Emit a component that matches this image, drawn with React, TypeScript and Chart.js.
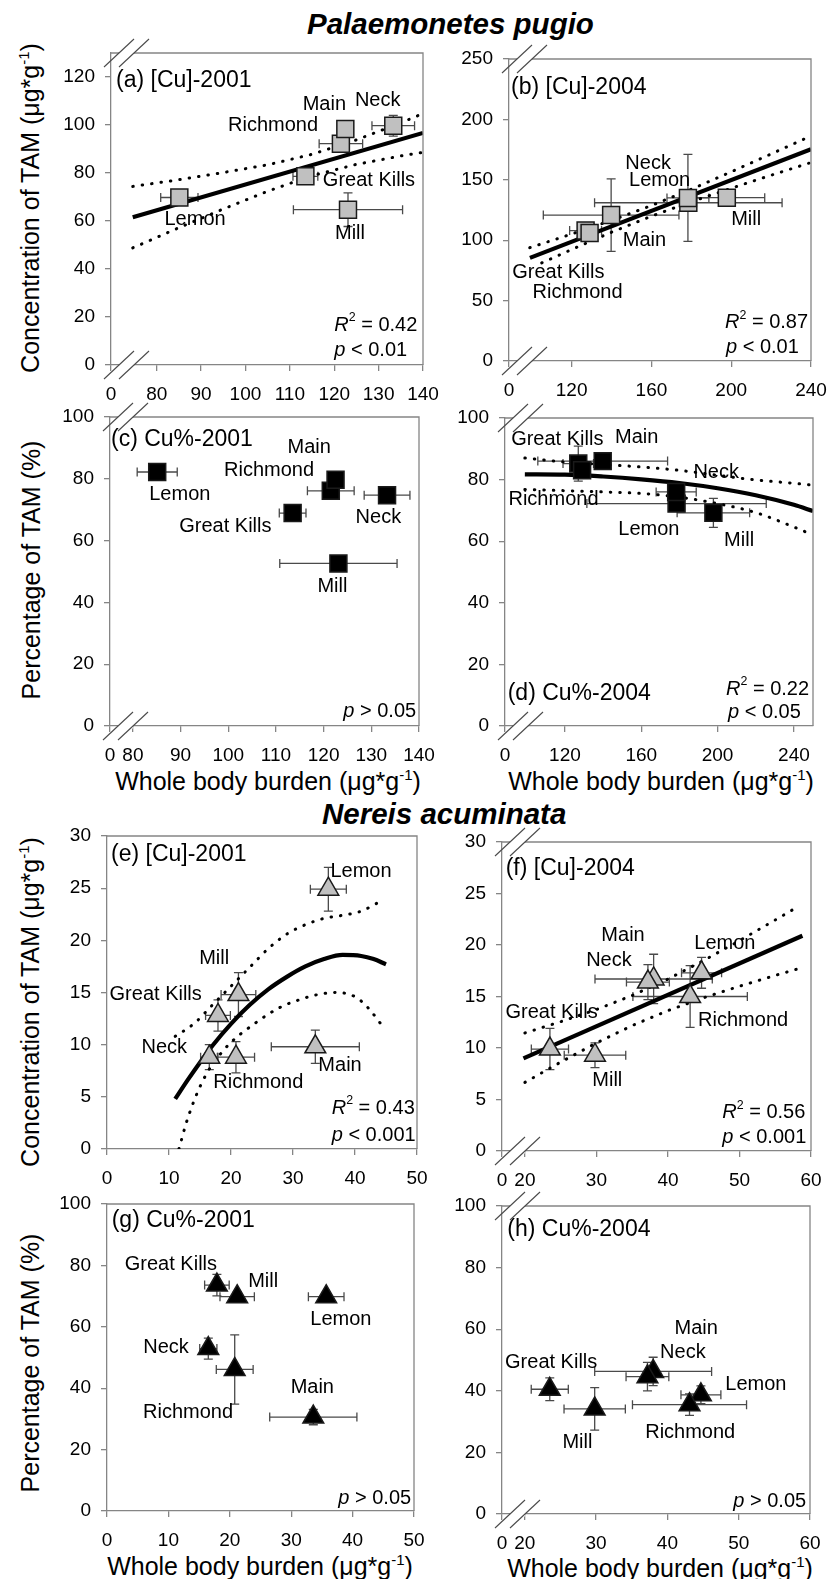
import React, { useEffect, useRef } from 'react';
import { Chart, registerables } from 'chart.js';

Chart.register(...registerables);

const FONT = '"Liberation Sans", Arial, Helvetica, sans-serif';
Chart.defaults.font.family = FONT;

// ---------------- data ----------------
const sites = ['Lemon', 'Great Kills', 'Richmond', 'Main', 'Neck', 'Mill'];

// Palaemonetes pugio 2001
const shrimpBurden2001 = [85.1, 113.5, 121.5, 122.5, 133.3, 123.1];
const shrimpBurdenErr2001 = [4.2, 2.8, 4.9, 1.5, 4.8, 12.3];
const shrimpTam2001 = [69.8, 78.6, 92.2, 98.3, 99.7, 64.7];
const shrimpTamErr2001 = [1.5, 1.5, 2.0, 1.5, 4.3, 7.0];
const shrimpPct2001 = [82.2, 68.9, 76.1, 79.7, 74.7, 52.6];
const shrimpPctErr2001 = [1.0, 1.0, 1.0, 1.0, 1.0, 1.0];

// Palaemonetes pugio 2004
const shrimpBurden2004 = [178.5, 127.0, 129.0, 139.8, 178.3, 197.8];
const shrimpBurdenErr2004 = [47.0, 8.0, 3.0, 34.0, 10.5, 19.0];
const shrimpTam2004 = [131.0, 108.0, 106.0, 120.8, 135.0, 135.2];
const shrimpTamErr2004 = [4.0, 3.0, 3.0, 30.0, 36.0, 5.0];
const shrimpPct2004 = [72.2, 85.2, 83.0, 86.0, 76.0, 69.2];
const shrimpPctErr2004 = [2.0, 5.7, 2.0, 2.0, 2.0, 4.7];

// Nereis acuminata 2001
const wormBurden2001 = [35.7, 17.9, 20.8, 33.6, 16.5, 21.2];
const wormBurdenErr2001 = [2.9, 2.0, 3.0, 7.1, 1.4, 2.8];
const wormTam2001 = [24.9, 12.8, 8.8, 9.8, 8.8, 14.8];
const wormTamErr2001 = [2.1, 1.5, 1.5, 1.6, 1.2, 2.1];
const wormPct2001 = [69.8, 73.6, 46.1, 30.6, 52.9, 69.8];
const wormPctErr2001 = [1.5, 3.5, 11.3, 2.5, 3.4, 1.5];

// Nereis acuminata 2004
const wormBurden2004 = [44.7, 23.5, 43.1, 38.0, 37.2, 29.8];
const wormBurdenErr2004 = [2.8, 2.6, 8.0, 8.2, 3.0, 4.3];
const wormTam2004 = [17.3, 9.9, 15.0, 16.7, 16.4, 9.3];
const wormTamErr2004 = [1.5, 2.0, 3.0, 2.4, 1.7, 1.2];
const wormPct2004 = [38.7, 40.5, 35.5, 46.3, 44.6, 34.1];
const wormPctErr2004 = [2.9, 3.7, 3.5, 4.6, 4.6, 6.9];

// regression fits and confidence bands
const fitA_x = [74.6, 140];
const fitA_y = [61.6, 96.7];
const ciA_x = [74.6, 85, 95, 105, 115, 125, 135, 140];
const ciA_hi = [74.4, 77.2, 80.2, 83.4, 87.8, 93.8, 100.9, 104.8];
const ciA_lo = [48.8, 57.2, 65.0, 72.4, 78.9, 83.6, 87.1, 88.6];

const fitB_x = [99.1, 240];
const fitB_y = [85.4, 175.3];
const ciB_hi_x = [99, 120, 140, 160, 180, 200, 220, 240];
const ciB_hi = [93.8, 105.1, 116.4, 128.7, 142.2, 156.6, 171.4, 186.3];
const ciB_lo_x = [105, 120, 140, 160, 180, 200, 220, 240];
const ciB_lo = [81.2, 92.3, 106.6, 119.9, 131.8, 143.0, 153.8, 164.3];

const fitD_x = [99, 120, 140, 160, 180, 200, 220, 240, 250];
const fitD_y = [81.7, 81.6, 81.0, 80.1, 78.9, 77.2, 74.9, 71.8, 69.8];
const ciD_hi = [87.0, 85.7, 84.9, 84.1, 83.0, 81.4, 79.9, 78.8, 78.2];
const ciD_lo = [76.8, 76.4, 76.0, 75.5, 74.3, 72.2, 69.3, 64.6, 62.0];

const fitE_x = [11, 13, 15, 17, 20, 23, 26, 29, 32, 35, 38, 41, 43, 45];
const fitE_y = [4.8, 6.6, 8.3, 9.9, 12.0, 13.8, 15.3, 16.5, 17.5, 18.2, 18.6, 18.5, 18.2, 17.7];
const ciE_hi_x = [11, 14, 17, 20, 23, 26, 29, 32, 35, 38, 41, 44];
const ciE_hi = [10.8, 12.0, 13.8, 15.6, 17.4, 19.2, 20.6, 21.5, 22.1, 22.4, 22.8, 23.7];
const ciE_lo_x = [11.6, 13, 15.5, 19, 24, 28, 31, 34, 37, 40, 42, 44.8];
const ciE_lo = [0, 2.9, 6.6, 9.6, 12.1, 13.6, 14.3, 14.8, 15.0, 14.6, 13.6, 11.5];

const fitF_x = [19.8, 58.8];
const fitF_y = [9.0, 20.9];
const ciF_x = [20, 25, 30, 35, 40, 45, 50, 55, 58];
const ciF_hi = [11.46, 12.55, 13.73, 15.1, 16.69, 18.5, 20.42, 22.43, 23.65];
const ciF_lo = [6.66, 8.63, 10.49, 12.18, 13.63, 14.88, 16.0, 17.05, 17.65];

// tick values
const xTicksShrimp2001 = [80, 90, 100, 110, 120, 130, 140];
const xTicksShrimp2004 = [120, 160, 200, 240];
const xTicksWorm2001 = [0, 10, 20, 30, 40, 50];
const xTicksWorm2004 = [20, 30, 40, 50, 60];
const yTicksTamShrimp2001 = [0, 20, 40, 60, 80, 100, 120];
const yTicksTamShrimp2004 = [0, 50, 100, 150, 200, 250];
const yTicksPct = [0, 20, 40, 60, 80, 100];
const yTicksTamWorm = [0, 5, 10, 15, 20, 25, 30];
const breakTickLabel = '0';

// ---------------- styling / layout ----------------
type Seg = { t: string; it?: boolean; sup?: boolean };
type Fit = { x: number[]; y: number[]; dotted?: boolean; smooth?: boolean };
type Panel = {
  id: string;
  rect: [number, number, number, number];
  xMin: number; xMax: number; xTicks: number[]; xBreak: boolean;
  yMax: number; yTicks: number[];
  x: number[]; xErr: number[]; y: number[]; yErr: number[];
  marker: 'rect' | 'triangle'; fill: string;
  labelOff: [number, number][];
  tag: string; tagPos: [number, number];
  stats: Seg[][]; statsPos: [number, number][];
  fits: Fit[];
};

const GRAY = '#c0c0c0';
const BLACK = '#000000';
const AXIS = '#858585';
const ERR = '#4a4a4a';

const r2 = (v: string): Seg[] => [{ t: 'R', it: true }, { t: '2', sup: true }, { t: ' = ' + v }];
const pv = (v: string): Seg[] => [{ t: 'p', it: true }, { t: ' ' + v }];

const panels: Panel[] = [
  {
    id: 'a', rect: [111, 53, 423, 365],
    xMin: 69.7, xMax: 140, xTicks: xTicksShrimp2001, xBreak: true,
    yMax: 130, yTicks: yTicksTamShrimp2001,
    x: shrimpBurden2001, xErr: shrimpBurdenErr2001, y: shrimpTam2001, yErr: shrimpTamErr2001,
    marker: 'rect', fill: GRAY,
    labelOff: [[15.7, 21.6], [63.6, 4.3], [-67.8, -18.1], [-21, -25], [-15.6, -25.7], [2, 23.3]],
    tag: '(a) [Cu]-2001', tagPos: [5, 28],
    stats: [r2('0.42'), pv('< 0.01')], statsPos: [[-88.7, -40], [-88.7, -15]],
    fits: [{ x: fitA_x, y: fitA_y }, { x: ciA_x, y: ciA_hi, dotted: true }, { x: ciA_x, y: ciA_lo, dotted: true }],
  },
  {
    id: 'b', rect: [509, 59, 811, 361],
    xMin: 88.6, xMax: 240, xTicks: xTicksShrimp2004, xBreak: true,
    yMax: 250, yTicks: yTicksTamShrimp2004,
    x: shrimpBurden2004, xErr: shrimpBurdenErr2004, y: shrimpTam2004, yErr: shrimpTamErr2004,
    marker: 'rect', fill: GRAY,
    labelOff: [[-28.7, -22.1], [-27.3, 41.7], [-12, 59.4], [33.3, 25.7], [-39.8, -34.6], [19.3, 22.3]],
    tag: '(b) [Cu]-2004', tagPos: [2, 29],
    stats: [r2('0.87'), pv('< 0.01')], statsPos: [[-86, -38.3], [-85, -13.3]],
    fits: [{ x: fitB_x, y: fitB_y }, { x: ciB_hi_x, y: ciB_hi, dotted: true }, { x: ciB_lo_x, y: ciB_lo, dotted: true }],
  },
  {
    id: 'c', rect: [110, 417, 419, 726],
    xMin: 75.2, xMax: 140, xTicks: xTicksShrimp2001, xBreak: true,
    yMax: 100, yTicks: yTicksPct,
    x: shrimpBurden2001, xErr: shrimpBurdenErr2001, y: shrimpPct2001, yErr: shrimpPctErr2001,
    marker: 'rect', fill: BLACK,
    labelOff: [[22.6, 22.6], [-67.3, 13.3], [-61.7, -20.7], [-26.4, -32], [-8.7, 22.7], [-6, 22.7]],
    tag: '(c) Cu%-2001', tagPos: [1, 23],
    stats: [pv('> 0.05')], statsPos: [[-75.7, -14.3]],
    fits: [],
  },
  {
    id: 'd', rect: [505, 418, 813, 726],
    xMin: 88.6, xMax: 250, xTicks: xTicksShrimp2004, xBreak: true,
    yMax: 100, yTicks: yTicksPct,
    x: shrimpBurden2004, xErr: shrimpBurdenErr2004, y: shrimpPct2004, yErr: shrimpPctErr2004,
    marker: 'rect', fill: BLACK,
    labelOff: [[-27.7, 26], [-21, -24.3], [-28.6, 28.9], [34, -23.7], [40, -19.4], [25.7, 27.3]],
    tag: '(d) Cu%-2004', tagPos: [2.7, 275.3],
    stats: [r2('0.22'), pv('< 0.05')], statsPos: [[-87, -36.7], [-85, -13.3]],
    fits: [
      { x: fitD_x, y: fitD_y, smooth: true },
      { x: fitD_x, y: ciD_hi, dotted: true, smooth: true },
      { x: fitD_x, y: ciD_lo, dotted: true, smooth: true },
    ],
  },
  {
    id: 'e', rect: [107, 836, 417, 1149],
    xMin: 0, xMax: 50, xTicks: xTicksWorm2001, xBreak: false,
    yMax: 30, yTicks: yTicksTamWorm,
    x: wormBurden2001, xErr: wormBurdenErr2001, y: wormTam2001, yErr: wormTamErr2001,
    marker: 'triangle', fill: GRAY,
    labelOff: [[32.7, -17.6], [-62.3, -20.7], [22.3, 25], [24.7, 18.3], [-45, -10], [-24.3, -35.7]],
    tag: '(e) [Cu]-2001', tagPos: [4, 19],
    stats: [r2('0.43'), pv('< 0.001')], statsPos: [[-85.3, -40.7], [-85.3, -14]],
    fits: [
      { x: fitE_x, y: fitE_y, smooth: true },
      { x: ciE_hi_x, y: ciE_hi, dotted: true, smooth: true },
      { x: ciE_lo_x, y: ciE_lo, dotted: true, smooth: true },
    ],
  },
  {
    id: 'f', rect: [502, 842, 811, 1151],
    xMin: 16.8, xMax: 60, xTicks: xTicksWorm2004, xBreak: true,
    yMax: 30, yTicks: yTicksTamWorm,
    x: wormBurden2004, xErr: wormBurdenErr2004, y: wormTam2004, yErr: wormTamErr2004,
    marker: 'triangle', fill: GRAY,
    labelOff: [[23.3, -29.4], [1.7, -36.6], [53, 24.3], [-30.6, -43.3], [-39, -21.7], [12.3, 25]],
    tag: '(f) [Cu]-2004', tagPos: [3.7, 26.3],
    stats: [r2('0.56'), pv('< 0.001')], statsPos: [[-88.7, -38.3], [-88.7, -13.3]],
    fits: [{ x: fitF_x, y: fitF_y }, { x: ciF_x, y: ciF_hi, dotted: true }, { x: ciF_x, y: ciF_lo, dotted: true }],
  },
  {
    id: 'g', rect: [107, 1204, 414, 1511],
    xMin: 0, xMax: 50, xTicks: xTicksWorm2001, xBreak: false,
    yMax: 100, yTicks: yTicksPct,
    x: wormBurden2001, xErr: wormBurdenErr2001, y: wormPct2001, yErr: wormPctErr2001,
    marker: 'triangle', fill: BLACK,
    labelOff: [[14.7, 22.6], [-46, -21], [-46.7, 43], [-1, -29.4], [-42.3, -1.6], [26, -15.7]],
    tag: '(g) Cu%-2001', tagPos: [4.7, 16.7],
    stats: [pv('> 0.05')], statsPos: [[-75.7, -12.7]],
    fits: [],
  },
  {
    id: 'h', rect: [502, 1206, 810, 1514],
    xMin: 16.8, xMax: 60, xTicks: xTicksWorm2004, xBreak: true,
    yMax: 100, yTicks: yTicksPct,
    x: wormBurden2004, xErr: wormBurdenErr2004, y: wormPct2004, yErr: wormPctErr2004,
    marker: 'triangle', fill: BLACK,
    labelOff: [[55, -10], [1.4, -26.6], [0.7, 28.3], [43, -43.4], [35.4, -24], [-17.3, 33.4]],
    tag: '(h) Cu%-2004', tagPos: [5.3, 24],
    stats: [pv('> 0.05')], statsPos: [[-76.7, -12.3]],
    fits: [],
  },
];

const PADL = 100, PADT = 30, PADR = 30, PADB = 50;

function drawRich(ctx: CanvasRenderingContext2D, x: number, y: number, segs: Seg[], size: number) {
  let cx = x;
  for (const s of segs) {
    const fs = s.sup ? size * 0.62 : size;
    ctx.font = `${s.it ? 'italic ' : ''}${fs}px ${FONT}`;
    ctx.fillText(s.t, cx, s.sup ? y - size * 0.38 : y);
    cx += ctx.measureText(s.t).width;
  }
}

function makePlugin(p: Panel) {
  return {
    id: 'decor_' + p.id,
    beforeDatasetsDraw(chart: any) {
      const { ctx } = chart;
      const xs = chart.scales.x, ys = chart.scales.y;
      const cap = 4.5;
      ctx.save();
      ctx.strokeStyle = ERR;
      ctx.lineWidth = 1.3;
      p.x.forEach((xv, i) => {
        const yv = p.y[i];
        const px = xs.getPixelForValue(xv), py = ys.getPixelForValue(yv);
        const x1 = xs.getPixelForValue(xv - p.xErr[i]), x2 = xs.getPixelForValue(xv + p.xErr[i]);
        const y1 = ys.getPixelForValue(yv + p.yErr[i]), y2 = ys.getPixelForValue(yv - p.yErr[i]);
        ctx.beginPath();
        ctx.moveTo(x1, py); ctx.lineTo(x2, py);
        ctx.moveTo(x1, py - cap); ctx.lineTo(x1, py + cap);
        ctx.moveTo(x2, py - cap); ctx.lineTo(x2, py + cap);
        ctx.moveTo(px, y1); ctx.lineTo(px, y2);
        ctx.moveTo(px - cap, y1); ctx.lineTo(px + cap, y1);
        ctx.moveTo(px - cap, y2); ctx.lineTo(px + cap, y2);
        ctx.stroke();
      });
      ctx.restore();
    },
    afterDraw(chart: any) {
      const { ctx, chartArea: a } = chart;
      const xs = chart.scales.x, ys = chart.scales.y;
      ctx.save();
      // top and right frame
      ctx.strokeStyle = AXIS;
      ctx.lineWidth = 1.3;
      ctx.beginPath();
      ctx.moveTo(a.left, a.top);
      ctx.lineTo(a.right, a.top);
      ctx.lineTo(a.right, a.bottom);
      ctx.stroke();
      // point labels
      ctx.fillStyle = '#000';
      ctx.textBaseline = 'middle';
      ctx.textAlign = 'center';
      ctx.font = `20px ${FONT}`;
      sites.forEach((s, i) => {
        const px = xs.getPixelForValue(p.x[i]);
        const py = ys.getPixelForValue(p.y[i]);
        ctx.fillText(s, px + p.labelOff[i][0], py + p.labelOff[i][1]);
      });
      // panel tag
      ctx.textAlign = 'left';
      ctx.font = `23px ${FONT}`;
      ctx.fillText(p.tag, a.left + p.tagPos[0], a.top + p.tagPos[1]);
      // stats
      p.stats.forEach((line, k) => drawRich(ctx, a.right + p.statsPos[k][0], a.bottom + p.statsPos[k][1], line, 20));
      // axis break marks
      if (p.xBreak) {
        for (const yy of [a.top, a.bottom]) {
          const c1 = a.left + 8, c2 = a.left + 23;
          ctx.fillStyle = '#fff';
          ctx.fillRect(c1, yy - 2.5, c2 - c1, 5);
          ctx.strokeStyle = '#4a4a4a';
          ctx.lineWidth = 1.1;
          for (const c of [c1, c2]) {
            ctx.beginPath();
            ctx.moveTo(c - 15, yy + 14);
            ctx.lineTo(c + 15, yy - 14);
            ctx.stroke();
          }
        }
      }
      ctx.restore();
    },
  };
}

function PanelChart({ p }: { p: Panel }) {
  const ref = useRef<HTMLCanvasElement>(null);
  const [L, T, R, B] = p.rect;
  const w = R - L + PADL + PADR;
  const h = B - T + PADT + PADB;
  useEffect(() => {
    const xt = p.xBreak ? [p.xMin, ...p.xTicks] : p.xTicks;
    const datasets: any[] = [
      {
        data: p.x.map((v, i) => ({ x: v, y: p.y[i] })),
        pointStyle: p.marker,
        pointRadius: 12,
        pointHoverRadius: 12,
        backgroundColor: p.fill,
        borderColor: '#1a1a1a',
        borderWidth: 1.5,
        showLine: false,
      },
      ...p.fits.map((f) => ({
        data: f.x.map((v, i) => ({ x: v, y: f.y[i] })),
        showLine: true,
        pointRadius: 0,
        borderColor: '#000',
        backgroundColor: '#000',
        borderWidth: f.dotted ? 3 : 4.2,
        borderDash: f.dotted ? [0.5, 9] : [],
        borderCapStyle: f.dotted ? 'round' : 'butt',
        tension: f.smooth ? 0.4 : 0,
        cubicInterpolationMode: f.smooth ? 'monotone' : 'default',
        fill: false,
      })),
    ];
    const chart = new Chart(ref.current as HTMLCanvasElement, {
      type: 'scatter',
      data: { datasets },
      options: {
        responsive: false,
        animation: false,
        layout: { padding: { left: 0, top: PADT, right: PADR, bottom: 0 } },
        plugins: { legend: { display: false }, tooltip: { enabled: false }, title: { display: false } },
        events: [],
        scales: {
          x: {
            type: 'linear',
            min: p.xMin,
            max: p.xMax,
            afterBuildTicks: (s: any) => { s.ticks = xt.map((v) => ({ value: v })); },
            afterFit: (s: any) => { s.height = PADB; s.paddingLeft = 0; s.paddingRight = 0; },
            ticks: {
              autoSkip: false, maxRotation: 0, minRotation: 0, padding: 12,
              color: '#000', font: { size: 19, family: FONT },
              callback: (v: any, i: number) => (p.xBreak && i === 0 ? breakTickLabel : String(v)),
            },
            grid: { drawOnChartArea: false, drawTicks: true, tickLength: 6, color: AXIS, tickColor: AXIS, lineWidth: 1.3 },
            border: { display: true, color: AXIS, width: 1.3 },
          },
          y: {
            type: 'linear',
            min: 0,
            max: p.yMax,
            afterBuildTicks: (s: any) => { s.ticks = p.yTicks.map((v) => ({ value: v })); },
            afterFit: (s: any) => { s.width = PADL; s.paddingTop = 0; s.paddingBottom = 0; },
            ticks: {
              autoSkip: false, padding: 10,
              color: '#000', font: { size: 19, family: FONT },
              callback: (v: any) => String(v),
            },
            grid: { drawOnChartArea: false, drawTicks: true, tickLength: 6, color: AXIS, tickColor: AXIS, lineWidth: 1.3 },
            border: { display: true, color: AXIS, width: 1.3 },
          },
        },
      } as any,
      plugins: [makePlugin(p)],
    });
    return () => chart.destroy();
  }, []);
  return (
    <canvas
      ref={ref}
      width={w}
      height={h}
      style={{ position: 'absolute', left: L - PADL, top: T - PADT, width: w, height: h }}
    />
  );
}

const Sup = ({ children }: { children: any }) => (
  <span style={{ fontSize: '0.6em', position: 'relative', top: '-0.7em' }}>{children}</span>
);

const concTitle = <>Concentration of TAM (μg*g<Sup>-1</Sup>)</>;
const pctTitle = <>Percentage of TAM (%)</>;
const burdenTitle = <>Whole body burden (μg*g<Sup>-1</Sup>)</>;

const yTitles: [number, number, any][] = [
  [30, 208, concTitle],
  [31, 570, pctTitle],
  [30, 1002, concTitle],
  [30, 1363, pctTitle],
];
const xTitles: [number, number][] = [
  [268, 781],
  [661, 781],
  [260, 1566],
  [660, 1568],
];

export default function App() {
  return (
    <div
      style={{
        position: 'absolute', left: 0, top: 0, width: 828, height: 1579,
        background: '#fff', overflow: 'hidden', fontFamily: FONT, color: '#000',
      }}
    >
      <div style={{ position: 'absolute', left: 307, top: 9, fontSize: 29.5, fontWeight: 'bold', fontStyle: 'italic', lineHeight: 1, whiteSpace: 'nowrap' }}>
        Palaemonetes pugio
      </div>
      <div style={{ position: 'absolute', left: 322, top: 799, fontSize: 29.5, fontWeight: 'bold', fontStyle: 'italic', lineHeight: 1, whiteSpace: 'nowrap' }}>
        Nereis acuminata
      </div>
      {yTitles.map(([cx, cy, t], i) => (
        <div
          key={'yt' + i}
          style={{
            position: 'absolute', left: cx, top: cy, fontSize: 25, lineHeight: 1, whiteSpace: 'nowrap',
            transform: 'translate(-50%, -50%) rotate(-90deg)',
          }}
        >
          {t}
        </div>
      ))}
      {xTitles.map(([cx, cy], i) => (
        <div
          key={'xt' + i}
          style={{
            position: 'absolute', left: cx, top: cy, fontSize: 25, lineHeight: 1, whiteSpace: 'nowrap',
            transform: 'translate(-50%, -50%)',
          }}
        >
          {burdenTitle}
        </div>
      ))}
      {panels.map((p) => (
        <PanelChart key={p.id} p={p} />
      ))}
    </div>
  );
}
